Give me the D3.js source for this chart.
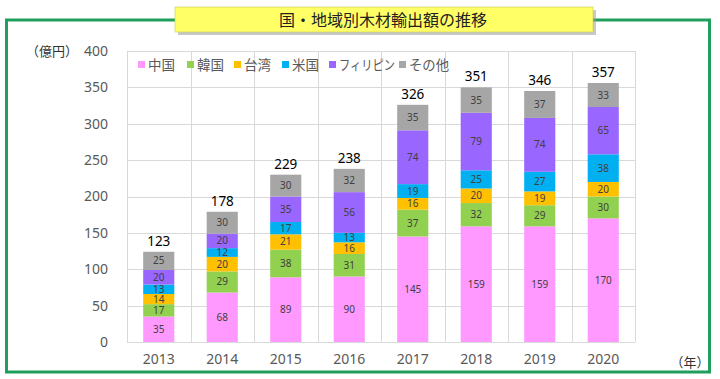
<!DOCTYPE html>
<html><head><meta charset="utf-8">
<script src="https://cdn.jsdelivr.net/npm/d3@7"></script>
<style>
body{margin:0;background:#fff;}
svg{display:block;font-family:"Noto Sans CJK JP","Noto Sans",sans-serif;}
</style></head>
<body><svg id="c" width="720" height="379"></svg>
<script>
const years = ["2013","2014","2015","2016","2017","2018","2019","2020"];
const seriesNames = ["中国","韓国","台湾","米国","フィリピン","その他"];
const seriesColors = ["#ff99ff","#92d050","#ffc000","#00b0f0","#9966ff","#a6a6a6"];
const china =    [35,68,89,90,145,159,159,170];
const korea =    [17,29,38,31,37,32,29,30];
const taiwan =   [14,20,21,16,16,20,19,20];
const usa =      [13,12,17,13,19,25,27,38];
const phil =     [20,20,35,56,74,79,74,65];
const other =    [25,30,30,32,35,35,37,33];
const totals =   [123,178,229,238,326,351,346,357];
const yTicks =   [0,50,100,150,200,250,300,350,400];

const seriesVals = [china,korea,taiwan,usa,phil,other];
const svg = d3.select("#c");
const numFont = "'Noto Sans','DejaVu Sans',sans-serif";

// frame
svg.append("rect").attr("x",6.5).attr("y",20).attr("width",703).attr("height",352)
  .attr("fill","none").attr("stroke","#1f9e5c").attr("stroke-width",3);

// title box
svg.append("rect").attr("x",178).attr("y",10).attr("width",418).attr("height",25)
  .attr("fill","#9a9a9a").attr("opacity",0.55);
svg.append("rect").attr("x",175).attr("y",7).attr("width",418).attr("height",25)
  .attr("fill","#ffff66").attr("stroke","#c8c850").attr("stroke-width",0.6);
svg.append("text").attr("x",383).attr("y",25.5).attr("text-anchor","middle")
  .attr("font-size",16).attr("fill","#222").text("国・地域別木材輸出額の推移");

const x = d3.scaleBand().domain(years).range([127,635]).paddingInner(0).paddingOuter(0);
const y = d3.scaleLinear().domain([0,400]).range([342,51]);
const bw = x.bandwidth()*0.49;

// grid
const g = svg.append("g");
g.selectAll("line.h").data(yTicks).join("line")
  .attr("x1",127).attr("x2",635).attr("y1",d=>Math.round(y(d))+0.5).attr("y2",d=>Math.round(y(d))+0.5)
  .attr("stroke","#d9d9d9").attr("stroke-width",1);
const vb = years.map(d=>x(d)).concat([635]);
g.selectAll("line.v").data(vb).join("line")
  .attr("x1",d=>Math.round(d)+0.5).attr("x2",d=>Math.round(d)+0.5).attr("y1",y(400)).attr("y2",y(0))
  .attr("stroke","#d9d9d9").attr("stroke-width",1);

// y axis labels
const yAxis = d3.axisLeft(y).tickValues(yTicks).tickSize(0).tickPadding(0);
const ya = svg.append("g").attr("transform","translate(108,0)").call(yAxis);
ya.select(".domain").remove();
ya.selectAll("text").attr("font-size",14).attr("fill","#595959").attr("font-family",numFont);
svg.append("text").attr("x",52).attr("y",56).attr("text-anchor","middle").attr("font-size",13)
  .attr("fill","#333").text("（億円）");

// x axis labels
const xAxis = d3.axisBottom(x).tickSize(0).tickPadding(0);
const xa = svg.append("g").attr("transform","translate(0,354)").call(xAxis);
xa.select(".domain").remove();
xa.selectAll("text").attr("font-size",14).attr("fill","#595959").attr("font-family",numFont);
svg.append("text").attr("x",690).attr("y",367).attr("text-anchor","middle").attr("font-size",13)
  .attr("fill","#333").text("（年）");

// stacked data
const rows = years.map((yr,i)=>{const o={year:yr}; seriesNames.forEach((s,j)=>o[s]=seriesVals[j][i]); return o;});
const stack = d3.stack().keys(seriesNames)(rows);

const bars = svg.append("g");
stack.forEach((layer,j)=>{
  const lg = bars.append("g");
  lg.selectAll("rect").data(layer).join("rect")
    .attr("x",d=>x(d.data.year)+(x.bandwidth()-bw)/2)
    .attr("width",bw)
    .attr("y",d=>y(d[1]))
    .attr("height",d=>y(d[0])-y(d[1]))
    .attr("fill",seriesColors[j]);
  lg.selectAll("text").data(layer).join("text")
    .attr("x",d=>x(d.data.year)+x.bandwidth()/2)
    .attr("y",d=>(y(d[0])+y(d[1]))/2+3.5)
    .attr("text-anchor","middle").attr("font-size",10).attr("fill","#404040")
    .attr("font-family",numFont)
    .text(d=>d.data[layer.key]);
});

// totals
svg.append("g").selectAll("text").data(years).join("text")
  .attr("x",d=>x(d)+x.bandwidth()/2)
  .attr("y",(d,i)=>y(d3.sum(seriesVals,s=>s[i]))-6)
  .attr("text-anchor","middle").attr("font-size",13.5).attr("fill","#000")
  .attr("font-family",numFont)
  .text((d,i)=>totals[i]);

// legend
const legendX = [138,187,234,282,329,399];
const legendW = [27,27,27,27,56,40];
const lgd = svg.append("g");
seriesNames.forEach((s,j)=>{
  lgd.append("rect").attr("x",legendX[j]).attr("y",61).attr("width",7).attr("height",7).attr("fill",seriesColors[j]);
  lgd.append("text").attr("x",legendX[j]+10).attr("y",69.5).attr("font-size",13.5).attr("fill","#595959")
    .attr("textLength",legendW[j]).attr("lengthAdjust","spacingAndGlyphs").text(s);
});
</script></body></html>
